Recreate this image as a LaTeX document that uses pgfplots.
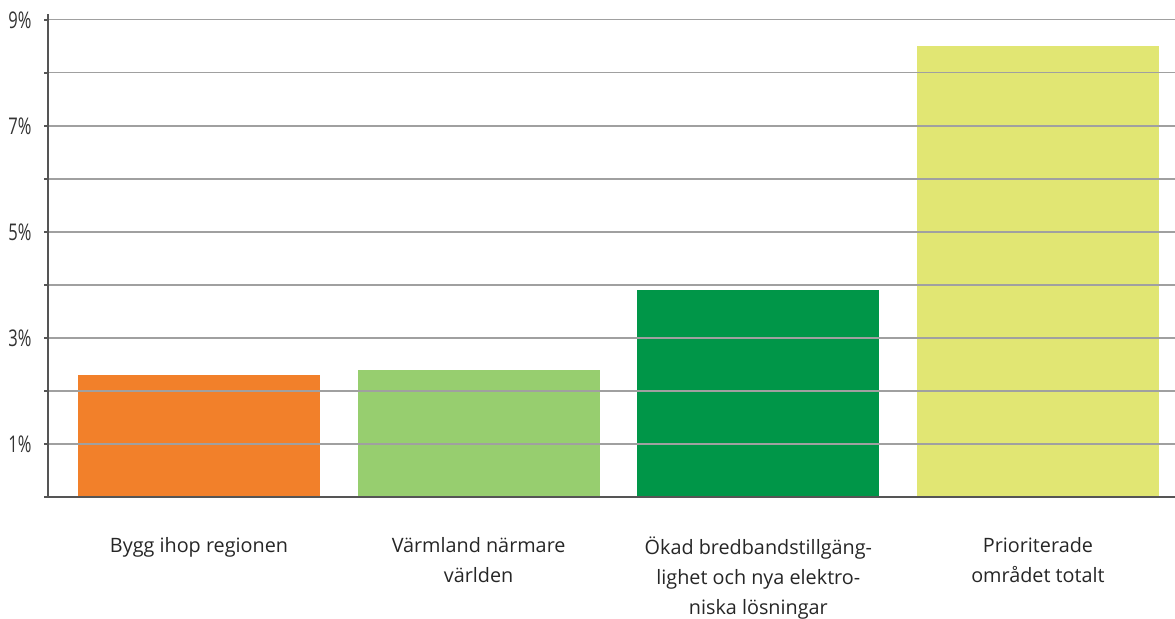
\documentclass[border=0pt]{standalone}
\usepackage{fontspec}
\setmainfont{Open Sans}
\newfontfamily\tickfont[FakeStretch=0.72]{Open Sans}
\usepackage{pgfplots}
\pgfplotsset{compat=1.18}
\definecolor{c1}{RGB}{242,128,42}
\definecolor{c2}{RGB}{151,206,111}
\definecolor{c3}{RGB}{0,150,72}
\definecolor{c4}{RGB}{225,230,115}
\definecolor{gridc}{RGB}{160,160,160}
\definecolor{axc}{RGB}{85,85,85}
\begin{document}
\begin{tikzpicture}
\useasboundingbox (-24pt,-61pt) rectangle (563.5pt,248.5pt);
\begin{axis}[
  name=ax,
  at={(0pt,0pt)}, anchor=south west,
  scale only axis,
  width=563.5pt, height=241.5pt,
  xmin=-0.54, xmax=3.49,
  ymin=0, ymax=9.11,
  axis lines*=left,
  axis line style={axc, line width=0.9pt},
  axis on top,
  ytick={1,3,5,7,9},
  minor ytick={0,2,4,6,8},
  yticklabels={1\%,3\%,5\%,7\%,9\%},
  yticklabel style={font=\tickfont\fontsize{11.5}{12}\selectfont, text=black!80, inner sep=0pt, xshift=-6pt},
  ymajorgrids, yminorgrids,
  major grid style={gridc, line width=0.65pt},
  minor grid style={gridc, line width=0.65pt},
  tick align=outside,
  major tick length=2pt, minor tick length=2pt,
  ytick style={axc, line width=0.7pt},
  xtick={0,1,2,3},
  xtick style={draw=none},
  xticklabels={Bygg ihop regionen, Värmland närmare\\världen, Ökad bredbandstillgäng-\\lighet och nya elektro-\\niska lösningar, Prioriterade\\området totalt},
  xticklabel style={font=\fontsize{9.9}{15}\selectfont, align=center, text=black!85, yshift=-14.5pt},
  ybar, bar width=0.866,
]
\addplot[fill=c1, draw=none, bar shift=0pt] coordinates {(0,2.3)};
\addplot[fill=c2, draw=none, bar shift=0pt] coordinates {(1,2.4)};
\addplot[fill=c3, draw=none, bar shift=0pt] coordinates {(2,3.9)};
\addplot[fill=c4, draw=none, bar shift=0pt] coordinates {(3,8.5)};
\end{axis}
\end{tikzpicture}
\end{document}
